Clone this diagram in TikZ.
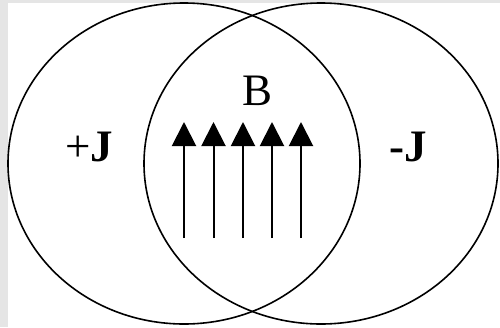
\documentclass[tikz,border=0pt]{standalone}
\usepackage{fontspec}
\setmainfont{Liberation Serif}
\usetikzlibrary{arrows.meta}

\begin{document}
\begin{tikzpicture}[
		x=1pt, y=-1pt,
		>={Triangle[length=24pt,width=24pt]},
		loop_line/.style={draw=black, line width=1.6pt},
		field_line/.style={->, line width=2pt},
		label_text/.style={font=\fontsize{45}{54}\selectfont, inner sep=0pt, anchor=base}
		]
		
		% --- CANVAS (grey strips on top and left) ---
		\fill[white] (0,0) rectangle (500,327);
		\fill[black!10] (0,0) rectangle (500,2.5);
		\fill[black!10] (0,0) rectangle (7.5,327);
		\useasboundingbox (0,0) rectangle (500,327);
		
		% --- OVERLAPPING LOOPS ---
		\draw[loop_line] (184,163.5) ellipse [x radius=176, y radius=160.5];
		\draw[loop_line] (321,163.5) ellipse [x radius=177, y radius=160.5];
		
		% --- LABELS ---
		\node[label_text] (j_plus) at (89,161) {+\textbf{J}};
		\node[label_text] (j_minus) at (408,161) {\textbf{-J}};
		\node[label_text] (b_field) at (257.5,105) {B};
		
		% --- FIELD ARROWS ---
		\foreach \k/\xpos in {1/184,2/213.5,3/243,4/272,5/301} {
			\coordinate (b\k_foot) at (\xpos,238);
			\coordinate (b\k_tip) at (\xpos,122);
			\draw[field_line] (b\k_foot) -- (b\k_tip);
		}
		
	\end{tikzpicture}
\end{document}
